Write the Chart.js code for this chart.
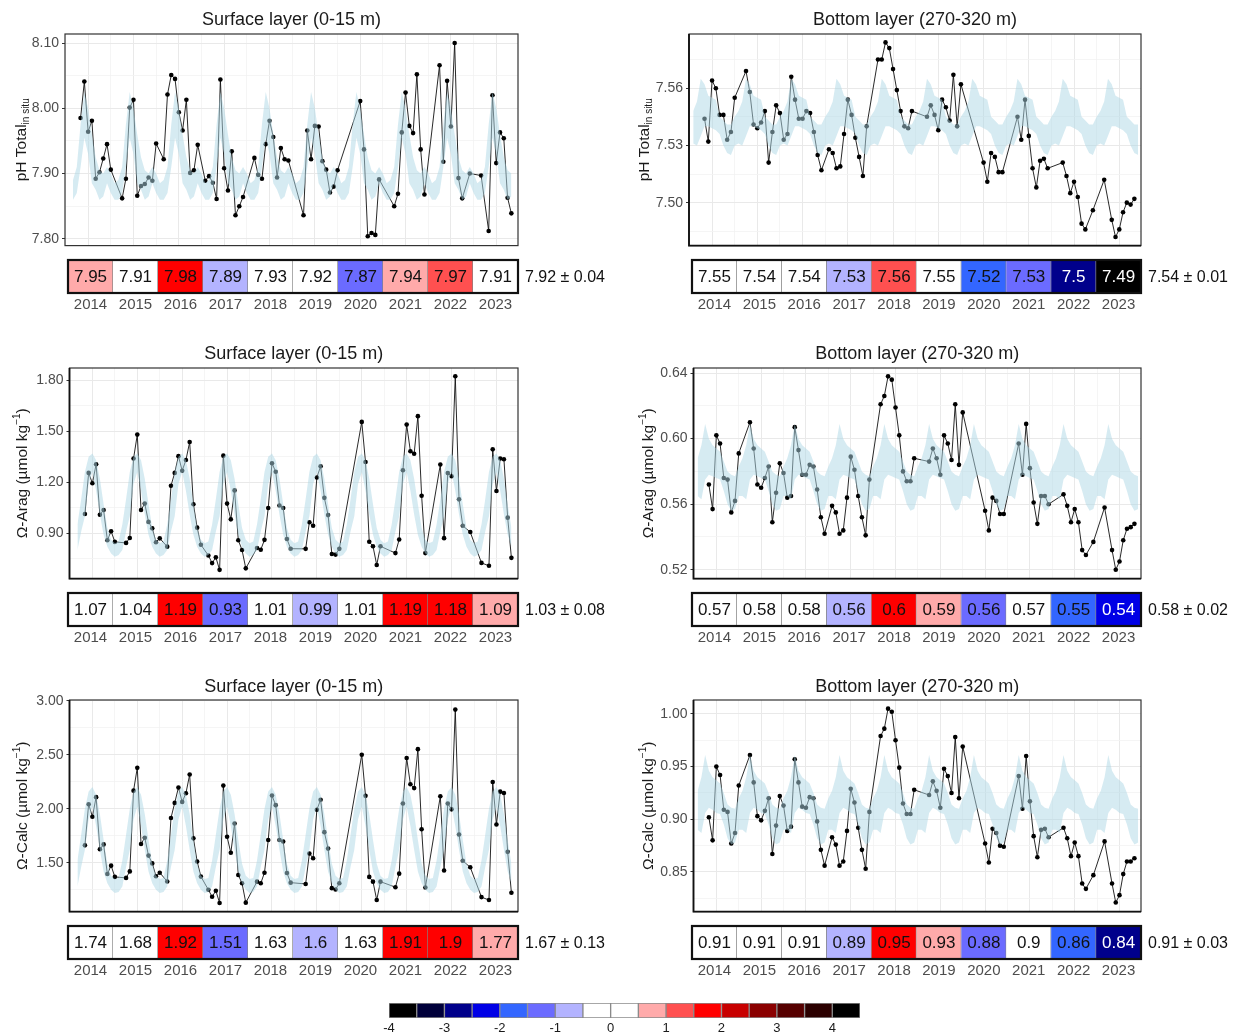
<!DOCTYPE html>
<html>
<head>
<meta charset="UTF-8">
<title>pH and aragonite / calcite saturation, surface and bottom layer</title>
<script src="https://cdn.jsdelivr.net/npm/chart.js@4.4.1/dist/chart.umd.min.js"></script>
<style>
  body { margin: 0; background: #fff; }
  #page { position: relative; width: 1235px; height: 1035px; overflow: hidden; }
  canvas { position: absolute; }
</style>
</head>
<body>
<div id="page"></div>
<script>
// ---- data ----
// sampling months, counted from January 2014 (0 = Jan 2014)
const surfMonths = [-2,-1,0,1,2,3,4,5,6, 9,10,11,12,13,14,15,16,17,18, 20,21,22,23,24,25,26,27,28,29,
  31,32,33,34,35,36,37,38,39,40,41, 44,45,46,47,48,49,50,51,52,53, 57,58,59,60,61,62,63,64,65,66,
  72,73,74,75,76,77, 81,82,83,84,85,86,87,88,89, 93,94,95,96,97,98,99, 101, 104, 106,107,108,109,110,111,112];
const bottMonths = [-2,-1,0,1,2,3,4,5,6, 9,10,11,12,13,14,15,16,17,18, 19,20,21,22,23,24,25,26,27,28,29,
  31,32,33,34,35,36,37,38,39,40,41, 44,45,46,47,48,49,50,51,52,53, 57,58,59,60,61,62,63,64,65,66,
  72,73,74,75,76,77, 81,82,83,84,85,86,87,88,89, 93,94,95,96,97,98,99, 101, 104, 106,107,108,109,110,111,112];

const phSurf = [7.985, 8.041, 7.964, 7.981, 7.892, 7.902, 7.923, 7.945, 7.906,
  7.862, 7.892, 8.001, 8.013, 7.866, 7.881, 7.884, 7.894, 7.889, 7.946,
  7.922, 8.021, 8.051, 8.045, 7.994, 7.966, 8.013, 7.901, 7.905, 7.944,
  7.889, 7.896, 7.886, 7.861, 8.044, 7.908, 7.874, 7.934, 7.836, 7.850, 7.864,
  7.924, 7.898, 7.892, 7.945, 7.981, 7.956, 7.894, 7.939, 7.922, 7.920,
  7.836, 7.966, 7.922, 7.973, 7.972, 7.919, 7.906, 7.871, 7.880, 7.905,
  8.011, 7.937, 7.804, 7.809, 7.806, 7.891,
  7.850, 7.869, 7.963, 8.024, 7.973, 7.962, 8.052, 7.937, 7.868,
  8.066, 7.918, 8.042, 7.972, 8.100, 7.893, 7.862,
  7.900, 7.897,
  7.812, 8.020, 7.916, 7.963, 7.954, 7.863, 7.839];
const phBott = [7.544, 7.532, 7.564, 7.560, 7.546, 7.546, 7.533, 7.537, 7.555,
  7.569, 7.558, 7.541, 7.539, 7.542, 7.548, 7.521, 7.537, 7.551, 7.547,
  7.533, 7.536, 7.566, 7.554, 7.544, 7.544, 7.548, 7.547, 7.537, 7.525, 7.517,
  7.528, 7.526, 7.518, 7.519, 7.536, 7.554, 7.546, 7.534, 7.524, 7.514, 7.540,
  7.575, 7.575, 7.584, 7.581, 7.570, 7.559, 7.548, 7.540, 7.539, 7.548,
  7.545, 7.551, 7.546, 7.538, 7.554, 7.550, 7.543, 7.567, 7.540, 7.562,
  7.521, 7.511, 7.526, 7.524, 7.516, 7.516,
  7.545, 7.533, 7.554, 7.535, 7.518, 7.508, 7.522, 7.523, 7.518,
  7.521, 7.514, 7.505, 7.511, 7.503, 7.489, 7.486,
  7.496, 7.512,
  7.491, 7.482, 7.486, 7.495, 7.500, 7.499, 7.502];
const aragSurf = [1.013, 1.255, 1.194, 1.306, 1.008, 1.036, 0.858, 0.911, 0.848,
  0.842, 0.871, 1.340, 1.481, 1.036, 1.074, 0.966, 0.928, 0.846, 0.869,
  0.820, 1.179, 1.255, 1.354, 1.268, 1.331, 1.437, 1.070, 0.932, 0.831,
  0.768, 0.723, 0.757, 0.683, 1.357, 1.074, 0.981, 1.152, 0.858, 0.800, 0.692,
  0.812, 0.802, 0.860, 1.048, 1.312, 1.262, 1.063, 1.048, 0.865, 0.808,
  0.807, 0.964, 0.943, 1.228, 1.294, 1.108, 1.006, 0.777, 0.773, 0.807,
  1.556, 1.319, 0.849, 0.822, 0.712, 0.822,
  0.782, 0.862, 1.271, 1.540, 1.383, 1.368, 1.590, 1.120, 0.782,
  1.305, 0.870, 1.254, 1.235, 1.825, 1.099, 0.943,
  0.906, 0.724,
  0.707, 1.394, 1.148, 1.340, 1.336, 0.991, 0.754];
const aragBott = [0.572, 0.557, 0.602, 0.597, 0.576, 0.575, 0.555, 0.562, 0.591,
  0.610, 0.594, 0.572, 0.570, 0.576, 0.583, 0.549, 0.567, 0.585, 0.579,
  0.564, 0.565, 0.607, 0.593, 0.578, 0.578, 0.584, 0.583, 0.569, 0.552, 0.542,
  0.559, 0.555, 0.542, 0.544, 0.564, 0.589, 0.581, 0.565, 0.552, 0.541, 0.575,
  0.621, 0.626, 0.638, 0.636, 0.619, 0.602, 0.580, 0.574, 0.574, 0.588,
  0.586, 0.594, 0.588, 0.578, 0.602, 0.597, 0.587, 0.621, 0.584, 0.616,
  0.556, 0.544, 0.564, 0.562, 0.554, 0.554,
  0.597, 0.578, 0.609, 0.582, 0.561, 0.548, 0.565, 0.565, 0.560,
  0.566, 0.559, 0.549, 0.557, 0.549, 0.532, 0.529,
  0.537, 0.558,
  0.532, 0.520, 0.525, 0.538, 0.545, 0.546, 0.548];
const calcSurf = [1.661, 2.042, 1.926, 2.107, 1.625, 1.670, 1.396, 1.473, 1.369,
  1.360, 1.420, 2.167, 2.378, 1.673, 1.732, 1.566, 1.494, 1.375, 1.408,
  1.327, 1.914, 2.054, 2.196, 2.063, 2.143, 2.316, 1.726, 1.512, 1.372,
  1.250, 1.185, 1.241, 1.128, 2.214, 1.741, 1.592, 1.863, 1.387, 1.310, 1.131,
  1.325, 1.310, 1.408, 1.711, 2.122, 2.033, 1.711, 1.697, 1.405, 1.316,
  1.304, 1.586, 1.542, 1.991, 2.083, 1.783, 1.631, 1.265, 1.253, 1.310,
  2.500, 2.119, 1.369, 1.325, 1.155, 1.325,
  1.274, 1.399, 2.048, 2.470, 2.226, 2.191, 2.551, 1.810, 1.271,
  2.116, 1.429, 2.048, 1.994, 2.917, 1.762, 1.518,
  1.458, 1.182,
  1.155, 2.247, 1.854, 2.158, 2.146, 1.601, 1.223];
const calcBott = [0.902, 0.880, 0.950, 0.942, 0.909, 0.907, 0.877, 0.887, 0.932,
  0.961, 0.935, 0.903, 0.899, 0.908, 0.920, 0.867, 0.894, 0.922, 0.913,
  0.889, 0.893, 0.957, 0.935, 0.912, 0.911, 0.921, 0.920, 0.898, 0.871, 0.856,
  0.883, 0.876, 0.856, 0.860, 0.889, 0.929, 0.916, 0.892, 0.871, 0.853, 0.907,
  0.979, 0.986, 1.005, 1.002, 0.975, 0.949, 0.915, 0.905, 0.905, 0.928,
  0.923, 0.936, 0.927, 0.911, 0.948, 0.941, 0.925, 0.978, 0.920, 0.969,
  0.877, 0.859, 0.891, 0.887, 0.875, 0.874,
  0.941, 0.910, 0.960, 0.917, 0.884, 0.864, 0.890, 0.891, 0.883,
  0.892, 0.882, 0.865, 0.878, 0.865, 0.839, 0.834,
  0.847, 0.879,
  0.839, 0.821, 0.828, 0.848, 0.860, 0.860, 0.863];

// monthly climatology (Jan..Dec), lower and upper edge of the shaded band
const phSurfClimLo = [7.930, 7.885, 7.875, 7.860, 7.865, 7.885, 7.870, 7.860, 7.860, 7.870, 7.910, 7.955];
const phSurfClimHi = [8.000, 7.960, 7.925, 7.905, 7.900, 7.910, 7.900, 7.885, 7.890, 7.910, 7.975, 8.025];
const phBottClimLo = [7.539, 7.538, 7.536, 7.530, 7.526, 7.525, 7.530, 7.531, 7.530, 7.535, 7.540, 7.540];
const phBottClimHi = [7.555, 7.554, 7.545, 7.543, 7.541, 7.541, 7.545, 7.548, 7.553, 7.565, 7.562, 7.556];
const aragSurfClimLo = [1.26, 1.15, 1.01, 0.89, 0.82, 0.78, 0.76, 0.77, 0.80, 0.91, 1.00, 1.19];
const aragSurfClimHi = [1.37, 1.33, 1.22, 1.07, 0.93, 0.86, 0.84, 0.85, 0.95, 1.10, 1.26, 1.35];
const aragBottClimLo = [0.576, 0.575, 0.568, 0.560, 0.556, 0.557, 0.565, 0.565, 0.563, 0.575, 0.578, 0.577];
const aragBottClimHi = [0.594, 0.592, 0.586, 0.580, 0.578, 0.577, 0.583, 0.588, 0.596, 0.609, 0.600, 0.596];
const calcSurfClimLo = [2.02, 1.84, 1.62, 1.42, 1.31, 1.25, 1.22, 1.23, 1.28, 1.46, 1.62, 1.90];
const calcSurfClimHi = [2.20, 2.13, 1.95, 1.71, 1.49, 1.38, 1.35, 1.36, 1.52, 1.76, 2.00, 2.16];
const calcBottClimLo = [0.906, 0.905, 0.895, 0.882, 0.876, 0.878, 0.890, 0.890, 0.887, 0.906, 0.911, 0.909];
const calcBottClimHi = [0.937, 0.934, 0.925, 0.914, 0.911, 0.910, 0.920, 0.927, 0.940, 0.961, 0.946, 0.940];

// annual means, their anomaly class and the overall mean ± sd
const years = ['2014', '2015', '2016', '2017', '2018', '2019', '2020', '2021', '2022', '2023'];
const phSurfYear = [7.95, 7.91, 7.98, 7.89, 7.93, 7.92, 7.87, 7.94, 7.97, 7.91];
const phBottYear = [7.55, 7.54, 7.54, 7.53, 7.56, 7.55, 7.52, 7.53, 7.5, 7.49];
const aragSurfYear = [1.07, 1.04, 1.19, 0.93, 1.01, 0.99, 1.01, 1.19, 1.18, 1.09];
const aragBottYear = [0.57, 0.58, 0.58, 0.56, 0.6, 0.59, 0.56, 0.57, 0.55, 0.54];
const calcSurfYear = [1.74, 1.68, 1.92, 1.51, 1.63, 1.6, 1.63, 1.91, 1.9, 1.77];
const calcBottYear = [0.91, 0.91, 0.91, 0.89, 0.95, 0.93, 0.88, 0.9, 0.86, 0.84];
const phSurfAnom = [0.75, 0.25, 1.75, -0.75, 0.25, 0.25, -1.25, 0.75, 1.25, 0.25];
const phBottAnom = [0.25, 0.25, 0.25, -0.75, 1.25, 0.25, -1.75, -1.25, -2.75, -3.75];
const aragSurfAnom = [0.25, 0.25, 1.75, -1.25, 0.25, -0.75, 0.25, 1.75, 1.75, 0.75];
const aragBottAnom = [0.25, 0.25, 0.25, -0.75, 1.75, 0.75, -1.25, 0.25, -1.75, -2.25];
const calcSurfAnom = [0.25, 0.25, 1.75, -1.25, 0.25, -0.75, 0.25, 1.75, 1.75, 0.75];
const calcBottAnom = [0.25, 0.25, 0.25, -0.75, 1.75, 0.75, -1.25, 0.25, -1.75, -2.75];
const phSurfStat = [7.92, 0.04];
const phBottStat = [7.54, 0.01];
const aragSurfStat = [1.03, 0.08];
const aragBottStat = [0.58, 0.02];
const calcSurfStat = [1.67, 0.13];
const calcBottStat = [0.91, 0.03];

// y axis labels
const phSurfTicks = [7.80, 7.90, 8.00, 8.10];
const phBottTicks = [7.50, 7.53, 7.56];
const aragSurfTicks = [0.90, 1.20, 1.50, 1.80];
const aragBottTicks = [0.52, 0.56, 0.60, 0.64];
const calcSurfTicks = [1.50, 2.00, 2.50, 3.00];
const calcBottTicks = [0.85, 0.90, 0.95, 1.00];

// colour key (anomaly in sd units, bins of 0.5)
const anomBins = [-3.75, -3.25, -2.75, -2.25, -1.75, -1.25, -0.75, -0.25, 0.25, 0.75, 1.25, 1.75, 2.25, 2.75, 3.25, 3.75, 4.25];
const anomColors = ['#000000', '#00003a', '#00008b', '#0000e6', '#3366ff', '#6b6bff', '#b3b3ff', '#ffffff',
  '#ffffff', '#ffaaaa', '#ff5050', '#ff0000', '#c80000', '#8b0000', '#560000', '#2b0000', '#000000'];
const legendTicks = [-4, -3, -2, -1, 0, 1, 2, 3, 4];

// ---- drawing ----
const FONT = '"Liberation Sans", Arial, Helvetica, sans-serif';
const page = document.getElementById('page');
const X_MIN = 2013.49, X_MAX = 2023.48;

function addCanvas(left, top, w, h) {
  const c = document.createElement('canvas');
  c.width = w; c.height = h;
  c.style.left = left + 'px'; c.style.top = top + 'px';
  c.style.width = w + 'px'; c.style.height = h + 'px';
  page.appendChild(c);
  return c;
}
function isOn(v, step, base) {
  const r = (v - (base || 0)) / step;
  return Math.abs(r - Math.round(r)) < 1e-6;
}
function binColor(z) {
  return anomColors[anomBins.findIndex(b => Math.abs(b - z) < 1e-9)];
}
function toX(n) { return 2014 + n / 12; }

// rotated axis title made of runs of text (for sub/superscripts)
function drawRotated(ctx, x, cy, parts) {
  ctx.save();
  let total = 0;
  parts.forEach(p => { ctx.font = p.size + 'px ' + FONT; p.w = ctx.measureText(p.t).width; total += p.w; });
  ctx.translate(x, cy);
  ctx.rotate(-Math.PI / 2);
  ctx.fillStyle = '#1a1a1a';
  ctx.textBaseline = 'alphabetic';
  ctx.textAlign = 'left';
  let pos = -total / 2;
  parts.forEach(p => {
    ctx.font = p.size + 'px ' + FONT;
    ctx.fillText(p.t, pos, 5.5 + (p.dy || 0));
    pos += p.w;
  });
  ctx.restore();
}

function lineChart(p) {
  const w = p.boxR - p.x0 + 6, h = p.boxB - p.y0 + 4;
  const c = addCanvas(p.x0, p.y0, w, h);
  const pts = p.months.map((n, i) => ({x: toX(n), y: p.values[i]}));
  const bandMonths = [];
  for (let n = p.bandFrom; n <= p.bandTo; n++) bandMonths.push(n);
  const lo = bandMonths.map(n => ({x: toX(n), y: p.climLo[((n % 12) + 12) % 12]}));
  const hi = bandMonths.map(n => ({x: toX(n), y: p.climHi[((n % 12) + 12) % 12]}));
  const xGrid = years.flatMap(y => [+y - 0.5, +y]);
  const step = p.yTicks[1] - p.yTicks[0];
  const yGrid = [];
  for (let v = p.yTicks[0] - step; v <= p.yTicks[p.yTicks.length - 1] + step + 1e-9; v += step / 2) {
    if (v >= p.yMin && v <= p.yMax) yGrid.push(+v.toFixed(4));
  }
  const yMajor = v => isOn(v, step, p.yTicks[0]);

  const decor = {
    id: 'decor' + p.id,
    afterDraw(chart) {
      const ctx = chart.ctx, a = chart.chartArea;
      ctx.save();
      ctx.strokeStyle = '#333';
      ctx.lineWidth = 1.2;
      ctx.strokeRect(a.left, a.top, a.right - a.left, a.bottom - a.top);
      if (p.heavyAxes) {
        // left and bottom edges are drawn heavier in these panels
        ctx.strokeStyle = '#111';
        ctx.lineWidth = 1.8;
        ctx.beginPath();
        ctx.moveTo(a.left, a.top);
        ctx.lineTo(a.left, a.bottom);
        ctx.lineTo(a.right, a.bottom);
        ctx.stroke();
      }
      ctx.fillStyle = '#1a1a1a';
      ctx.font = '18px ' + FONT;
      ctx.textAlign = 'center';
      ctx.textBaseline = 'middle';
      ctx.fillText(p.title, (a.left + a.right) / 2, p.titleY - p.y0);
      ctx.restore();
      drawRotated(ctx, p.yTitleX - p.x0, (a.top + a.bottom) / 2, p.yTitle);
    }
  };

  new Chart(c, {
    type: 'line',
    data: {
      datasets: [
        {data: pts, borderColor: '#111', borderWidth: 0.9, pointRadius: 2.3,
         pointBackgroundColor: '#000', pointBorderWidth: 0, tension: 0, order: 2},
        {data: lo, borderWidth: 0, borderColor: 'rgba(0,0,0,0)', pointRadius: 0, fill: false, order: 1},
        {data: hi, borderWidth: 0, borderColor: 'rgba(0,0,0,0)', pointRadius: 0, fill: '-1',
         backgroundColor: 'rgba(173,216,230,0.5)', order: 0}
      ]
    },
    options: {
      responsive: false, animation: false, devicePixelRatio: 1,
      layout: {padding: {left: 0, top: p.boxT - p.y0, right: 6, bottom: 4}},
      plugins: {legend: {display: false}, tooltip: {enabled: false}},
      scales: {
        x: {
          type: 'linear', min: X_MIN, max: X_MAX,
          afterBuildTicks: s => { s.ticks = xGrid.map(v => ({value: v})); },
          afterFit: s => { s.height = 0; },
          ticks: {display: false},
          grid: {
            drawTicks: false,
            color: ctx => (ctx.tick && isOn(ctx.tick.value, 1)) ? '#e9e9e9' : '#f3f3f3',
            lineWidth: ctx => (ctx.tick && isOn(ctx.tick.value, 1)) ? 1 : 0.8
          },
          border: {display: false}
        },
        y: {
          type: 'linear', min: p.yMin, max: p.yMax,
          afterBuildTicks: s => { s.ticks = yGrid.map(v => ({value: v})); },
          afterFit: s => { s.width = p.boxL - p.x0; },
          ticks: {
            color: '#4d4d4d', font: {family: FONT, size: 14}, padding: 3,
            callback: v => yMajor(v) ? v.toFixed(2) : ''
          },
          grid: {
            tickLength: 3,
            tickColor: ctx => (ctx.tick && yMajor(ctx.tick.value)) ? '#333' : 'rgba(0,0,0,0)',
            color: ctx => (ctx.tick && yMajor(ctx.tick.value)) ? '#e9e9e9' : '#f3f3f3',
            lineWidth: ctx => (ctx.tick && yMajor(ctx.tick.value)) ? 1 : 0.8
          },
          border: {display: false}
        }
      }
    },
    plugins: [decor]
  });
}

function stripChart(p) {
  const top = p.stripT - 3, h = 56, w = 615;
  const c = addCanvas(p.x0, top, w, h);
  const cells = {
    id: 'cells' + p.id,
    afterDatasetsDraw(chart) {
      const ctx = chart.ctx, a = chart.chartArea;
      const meta = chart.getDatasetMeta(0);
      ctx.save();
      ctx.font = '17px ' + FONT;
      ctx.textAlign = 'center';
      ctx.textBaseline = 'middle';
      meta.data.forEach((bar, i) => {
        const pr = bar.getProps(['x', 'y', 'base'], true);
        ctx.fillStyle = Math.abs(p.anom[i]) >= 2 ? '#ffffff' : '#111';
        ctx.fillText(String(p.means[i]), pr.x, (pr.y + pr.base) / 2 + 1);
      });
      ctx.strokeStyle = '#111';
      ctx.lineWidth = 2.2;
      ctx.strokeRect(a.left, a.top, a.right - a.left, a.bottom - a.top);
      ctx.fillStyle = '#111';
      ctx.font = '16px ' + FONT;
      ctx.textAlign = 'left';
      ctx.fillText(p.stat[0].toFixed(2) + ' \u00b1 ' + p.stat[1].toFixed(2), a.right + 7, (a.top + a.bottom) / 2 + 1);
      ctx.restore();
    }
  };
  new Chart(c, {
    type: 'bar',
    data: {
      labels: years,
      datasets: [{
        data: years.map(() => 1),
        backgroundColor: p.anom.map(binColor),
        borderColor: 'rgba(90,90,90,0.75)',
        borderWidth: {left: 0, right: 1, top: 0, bottom: 0},
        borderSkipped: false,
        barPercentage: 1, categoryPercentage: 1
      }]
    },
    options: {
      responsive: false, animation: false, devicePixelRatio: 1,
      layout: {padding: {left: p.stripL - p.x0, top: 3, right: w - (p.stripR - p.x0), bottom: 0}},
      plugins: {legend: {display: false}, tooltip: {enabled: false}},
      scales: {
        x: {
          grid: {display: false, drawTicks: false}, border: {display: false},
          ticks: {color: '#4d4d4d', font: {family: FONT, size: 15}, padding: 3, maxRotation: 0, autoSkip: false},
          afterFit: s => { s.height = h - 3 - (p.stripB - p.stripT); }
        },
        y: {display: false, min: 0, max: 1}
      }
    },
    plugins: [cells]
  });
}

function legendChart() {
  const left = 365, top = 999, w = 520, h = 36;
  const c = addCanvas(left, top, w, h);
  new Chart(c, {
    type: 'bar',
    data: {
      datasets: [{
        data: anomBins.map(b => ({x: b, y: 1})),
        backgroundColor: anomColors,
        borderColor: '#8a8a8a',
        borderWidth: 1,
        borderSkipped: false,
        barPercentage: 1, categoryPercentage: 1
      }]
    },
    options: {
      responsive: false, animation: false, devicePixelRatio: 1,
      layout: {padding: {left: 389 - left, top: 4, right: w - (860 - left), bottom: 0}},
      plugins: {legend: {display: false}, tooltip: {enabled: false}},
      scales: {
        x: {
          type: 'linear', min: -4, max: 4.5, offset: false,
          afterBuildTicks: s => { s.ticks = legendTicks.map(v => ({value: v})); },
          afterFit: s => { s.height = h - 4 - 15; },
          grid: {display: false, drawTicks: false, offset: false}, border: {display: false},
          ticks: {color: '#1a1a1a', font: {family: FONT, size: 13}, padding: 3, callback: v => String(v)}
        },
        y: {display: false, min: 0, max: 1}
      }
    }
  });
}

const phTitle = [{t: 'pH Total', size: 15.5}, {t: 'in situ', size: 10, dy: 3}];
const aragTitle = [{t: '\u03a9-Arag (\u00b5mol kg', size: 15.5}, {t: '\u22121', size: 10, dy: -7}, {t: ')', size: 15.5}];
const calcTitle = [{t: '\u03a9-Calc (\u00b5mol kg', size: 15.5}, {t: '\u22121', size: 10, dy: -7}, {t: ')', size: 15.5}];

const panels = [
  {id: 1, x0: 0, y0: 0, boxL: 65, boxR: 518, boxT: 34, boxB: 253, stripL: 68, stripR: 518, stripT: 260, stripB: 293,
   titleY: 20, yTitleX: 20, title: 'Surface layer (0-15 m)', yTitle: phTitle, heavyAxes: false,
   months: surfMonths, values: phSurf, climLo: phSurfClimLo, climHi: phSurfClimHi, bandFrom: -4, bandTo: 112,
   yMin: 7.7896, yMax: 8.1138, yTicks: phSurfTicks, means: phSurfYear, anom: phSurfAnom, stat: phSurfStat},
  {id: 2, x0: 620, y0: 0, boxL: 689, boxR: 1141, boxT: 34, boxB: 253, stripL: 692, stripR: 1141, stripT: 260, stripB: 293,
   titleY: 20, yTitleX: 643, title: 'Bottom layer (270-320 m)', yTitle: phTitle, heavyAxes: true,
   months: bottMonths, values: phBott, climLo: phBottClimLo, climHi: phBottClimHi, bandFrom: -5, bandTo: 113,
   yMin: 7.4775, yMax: 7.5884, yTicks: phBottTicks, means: phBottYear, anom: phBottAnom, stat: phBottStat},
  {id: 3, x0: 0, y0: 333, boxL: 69.5, boxR: 518, boxT: 368, boxB: 586, stripL: 68, stripR: 518, stripT: 593, stripB: 626,
   titleY: 354, yTitleX: 21, title: 'Surface layer (0-15 m)', yTitle: aragTitle, heavyAxes: true,
   months: surfMonths, values: aragSurf, climLo: aragSurfClimLo, climHi: aragSurfClimHi, bandFrom: -4, bandTo: 112,
   yMin: 0.6315, yMax: 1.874, yTicks: aragSurfTicks, means: aragSurfYear, anom: aragSurfAnom, stat: aragSurfStat},
  {id: 4, x0: 620, y0: 333, boxL: 693.5, boxR: 1141, boxT: 368, boxB: 586, stripL: 692, stripR: 1141, stripT: 593, stripB: 626,
   titleY: 354, yTitleX: 647, title: 'Bottom layer (270-320 m)', yTitle: aragTitle, heavyAxes: true,
   months: bottMonths, values: aragBott, climLo: aragBottClimLo, climHi: aragBottClimHi, bandFrom: -5, bandTo: 113,
   yMin: 0.5146, yMax: 0.6431, yTicks: aragBottTicks, means: aragBottYear, anom: aragBottAnom, stat: aragBottStat},
  {id: 5, x0: 0, y0: 666, boxL: 69.5, boxR: 518, boxT: 700, boxB: 919, stripL: 68, stripR: 518, stripT: 926, stripB: 959,
   titleY: 687, yTitleX: 21, title: 'Surface layer (0-15 m)', yTitle: calcTitle, heavyAxes: true,
   months: surfMonths, values: calcSurf, climLo: calcSurfClimLo, climHi: calcSurfClimHi, bandFrom: -4, bandTo: 112,
   yMin: 1.048, yMax: 3.006, yTicks: calcSurfTicks, means: calcSurfYear, anom: calcSurfAnom, stat: calcSurfStat},
  {id: 6, x0: 620, y0: 666, boxL: 693.5, boxR: 1141, boxT: 700, boxB: 919, stripL: 692, stripR: 1141, stripT: 926, stripB: 959,
   titleY: 687, yTitleX: 647, title: 'Bottom layer (270-320 m)', yTitle: calcTitle, heavyAxes: true,
   months: bottMonths, values: calcBott, climLo: calcBottClimLo, climHi: calcBottClimHi, bandFrom: -5, bandTo: 113,
   yMin: 0.8124, yMax: 1.0132, yTicks: calcBottTicks, means: calcBottYear, anom: calcBottAnom, stat: calcBottStat}
];

panels.forEach(p => { lineChart(p); stripChart(p); });
legendChart();
</script>
</body>
</html>
